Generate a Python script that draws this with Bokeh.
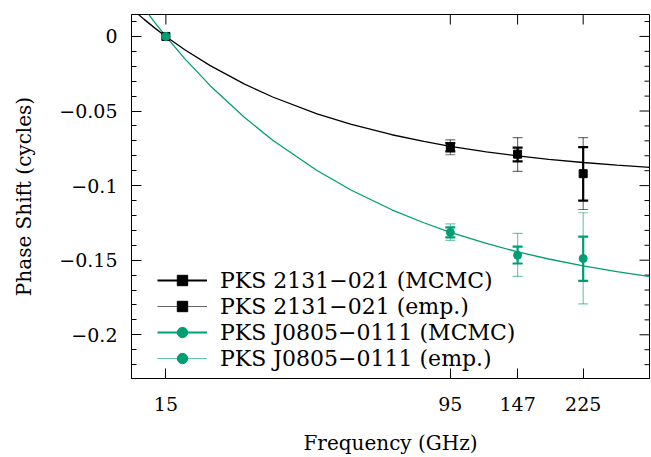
import math
from bokeh.plotting import figure
from bokeh.models import (Range1d, FixedTicker, SingleIntervalTicker,
                          CustomJSTickFormatter, Whisker, TeeHead, ColumnDataSource, Legend, LegendItem)
from bokeh.embed import file_html
from bokeh.resources import INLINE

# ---- data ----
freq_ticks = [15, 95, 147, 225]
freq_pts = [15, 95, 147, 225]
freq_err = [95, 147, 225]

pks2131_val = [0.0, -0.0742, -0.0789, -0.0920]
pks2131_mcmc_lo = [-0.0771, -0.0838, -0.1100]
pks2131_mcmc_hi = [-0.0715, -0.0745, -0.0742]
pks2131_emp_lo = [-0.0793, -0.0905, -0.1160]
pks2131_emp_hi = [-0.0693, -0.0678, -0.0678]

j0805_val = [0.0, -0.1313, -0.1467, -0.1489]
j0805_mcmc_lo = [-0.1347, -0.1522, -0.1638]
j0805_mcmc_hi = [-0.1280, -0.1409, -0.1342]
j0805_emp_lo = [-0.1367, -0.1609, -0.1793]
j0805_emp_hi = [-0.1257, -0.1320, -0.1182]

curve_freq = [12, 13, 14, 15, 17, 20, 25, 30, 40, 50, 65, 80, 95, 120, 147, 180, 225, 280, 350]
curve_pks2131 = [0.0187, 0.0116, 0.0054, 0.0, -0.0091, -0.0196, -0.0320, -0.0406, -0.0519,
                 -0.0590, -0.0659, -0.0704, -0.0737, -0.0774, -0.0801, -0.0824, -0.0845,
                 -0.0863, -0.0878]
curve_j0805 = [0.0306, 0.0191, 0.0089, 0.0, -0.0152, -0.0330, -0.0544, -0.0696, -0.0899,
               -0.1031, -0.1162, -0.1249, -0.1313, -0.1388, -0.1444, -0.1492, -0.1538,
               -0.1577, -0.1611]

labels = ["PKS 2131\u2212021 (MCMC)", "PKS 2131\u2212021 (emp.)",
          "PKS J0805\u22120111 (MCMC)", "PKS J0805\u22120111 (emp.)"]

X_MIN, X_MAX = 12, 346
Y_MIN, Y_MAX = -0.2293, 0.0147
Y_MAJOR, Y_MINOR = 0.05, 0.01

BLACK = "#000000"
GREEN = "#009E73"
FONT = "DejaVu Serif"

p = figure(width=651, height=457, x_axis_type="log",
           x_range=Range1d(X_MIN, X_MAX), y_range=Range1d(Y_MIN, Y_MAX),
           output_backend="svg", toolbar_location=None,
           min_border_left=131, min_border_right=2, min_border_top=14, min_border_bottom=77)
p.grid.visible = False
p.outline_line_color = "black"
p.outline_line_width = 1
p.background_fill_color = "white"
p.border_fill_color = "white"

# axes
xa = p.xaxis[0]
xa.ticker = FixedTicker(ticks=freq_ticks, minor_ticks=[])
xa.formatter = CustomJSTickFormatter(code="return tick.toFixed(0);")
ya = p.yaxis[0]
ya.ticker = SingleIntervalTicker(interval=Y_MAJOR, num_minor_ticks=5)
ya.formatter = CustomJSTickFormatter(code="""
const v = Math.round(tick*100)/100;
const s = String(Math.abs(v));
return v < 0 ? "\\u2212" + s : s;
""")
xa.axis_label = "Frequency (GHz)"
ya.axis_label = "Phase Shift (cycles)"
for ax in (xa, ya):
    ax.axis_label_text_font = FONT
    ax.axis_label_text_font_size = "20px"
    ax.axis_label_text_font_style = "normal"
    ax.axis_label_text_color = "black"
    ax.major_label_text_font = FONT
    ax.major_label_text_font_size = "19px"
    ax.major_label_text_color = "black"
    ax.major_tick_in = 10
    ax.major_tick_out = 0
    ax.minor_tick_in = 5
    ax.minor_tick_out = 0
    ax.axis_line_color = "black"
    ax.major_tick_line_color = "black"
    ax.minor_tick_line_color = "black"
xa.major_label_standoff = 18
xa.axis_label_standoff = 17
ya.major_label_standoff = 14
ya.axis_label_standoff = 20

# mirrored ticks on top and right edges (drawn inward from the frame edges)
n_lo = math.ceil(Y_MIN / Y_MINOR)
n_hi = math.floor(Y_MAX / Y_MINOR)
y_minor_vals = [round(k * Y_MINOR, 4) for k in range(n_lo, n_hi + 1)]
y_major_vals = [v for v in y_minor_vals if abs(round(v / Y_MAJOR) * Y_MAJOR - v) < 1e-9]
y_only_minor = [v for v in y_minor_vals if v not in y_major_vals]
p.ray(x=[X_MAX] * len(y_major_vals), y=y_major_vals, length=10, length_units="screen",
      angle=math.pi, line_color="black", line_width=1)
p.ray(x=[X_MAX] * len(y_only_minor), y=y_only_minor, length=5, length_units="screen",
      angle=math.pi, line_color="black", line_width=1)
p.ray(x=freq_ticks, y=[Y_MAX] * len(freq_ticks), length=10, length_units="screen",
      angle=-math.pi / 2, line_color="black", line_width=1)

# curves
p.line(curve_freq, curve_pks2131, line_color=BLACK, line_width=1.3)
p.line(curve_freq, curve_j0805, line_color=GREEN, line_width=1.3)

def bars(lo, hi, color, width, alpha):
    src = ColumnDataSource(dict(x=freq_err, lo=lo, hi=hi))
    w = Whisker(base="x", lower="lo", upper="hi", source=src, dimension="height",
                line_color=color, line_width=width, line_alpha=alpha,
                upper_head=TeeHead(size=10, line_color=color, line_width=width, line_alpha=alpha),
                lower_head=TeeHead(size=10, line_color=color, line_width=width, line_alpha=alpha))
    p.add_layout(w)

bars(pks2131_emp_lo, pks2131_emp_hi, BLACK, 1.2, 0.55)
bars(pks2131_mcmc_lo, pks2131_mcmc_hi, BLACK, 2.2, 1.0)
bars(j0805_emp_lo, j0805_emp_hi, GREEN, 1.2, 0.55)
bars(j0805_mcmc_lo, j0805_mcmc_hi, GREEN, 2.2, 1.0)

p.scatter(freq_pts, pks2131_val, marker="square", size=8, fill_color=BLACK, line_color=BLACK)
p.scatter(freq_pts, j0805_val, marker="circle", size=8, fill_color=GREEN, line_color=GREEN)

# legend proxies (NaN data, nothing drawn in the plot)
NAN = float("nan")
def proxy(color, width, alpha, marker):
    l = p.line([NAN, NAN], [NAN, NAN], line_color=color, line_width=width, line_alpha=alpha)
    m = p.scatter([NAN], [NAN], marker=marker, size=7, fill_color=color, line_color=color)
    return [l, m]

items = [
    LegendItem(label=labels[0], renderers=proxy(BLACK, 2.2, 1.0, "square")),
    LegendItem(label=labels[1], renderers=proxy(BLACK, 1.2, 0.6, "square")),
    LegendItem(label=labels[2], renderers=proxy(GREEN, 2.2, 1.0, "circle")),
    LegendItem(label=labels[3], renderers=proxy(GREEN, 1.2, 0.6, "circle")),
]
leg = Legend(items=items, location=(26, 7), glyph_width=50, glyph_height=26,
             label_height=26, label_standoff=13, spacing=0, padding=0, margin=0,
             border_line_color=None, background_fill_alpha=0,
             label_text_font=FONT, label_text_font_size="22px", label_text_color="black")
p.add_layout(leg, "center")

open("out.html", "w").write(file_html(p, INLINE))
